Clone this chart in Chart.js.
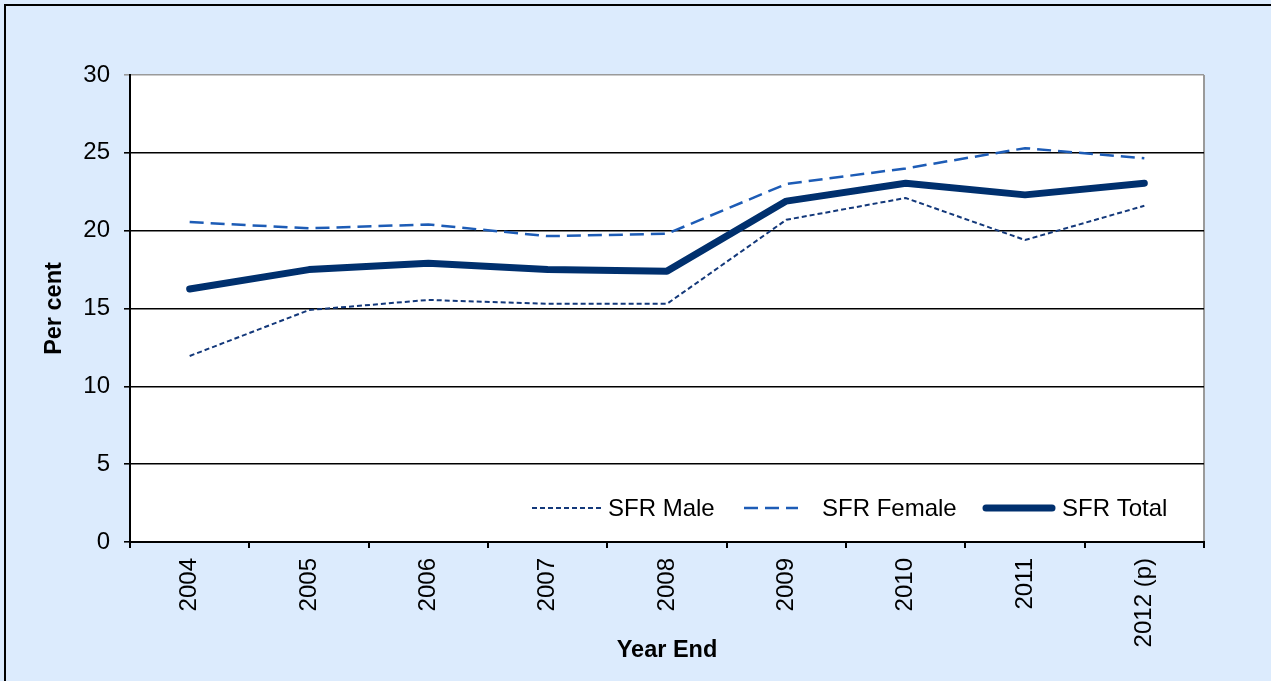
<!DOCTYPE html>
<html>
<head>
<meta charset="utf-8">
<script src="https://cdn.jsdelivr.net/npm/chart.js@4.4.1/dist/chart.umd.min.js"></script>
<style>
  html, body { margin: 0; padding: 0; background: rgb(220,235,253); overflow: hidden; }
  #wrap { position: relative; width: 1271px; height: 681px; }
  #frame { position: absolute; left: 4px; top: 4px; width: 1300px; height: 720px; border: 2px solid #000; box-sizing: border-box; pointer-events: none; }
  canvas { position: absolute; left: 0; top: 0; }
</style>
</head>
<body>
<div id="wrap">
  <canvas id="c" width="1271" height="681"></canvas>
  <div id="frame"></div>
</div>
<script>
const categories = ['2004', '2005', '2006', '2007', '2008', '2009', '2010', '2011', '2012 (p)'];
const sfrMale   = [11.95, 14.9, 15.55, 15.3, 15.3, 20.7, 22.1, 19.4, 21.6];
const sfrFemale = [20.55, 20.15, 20.4, 19.65, 19.8, 23.0, 24.0, 25.3, 24.65];
const sfrTotal  = [16.25, 17.5, 17.9, 17.5, 17.4, 21.9, 23.05, 22.3, 23.05];
const yTicks = [0, 5, 10, 15, 20, 25, 30];

const FONT = "'Liberation Sans', Arial, sans-serif";

const plotBg = {
  id: 'plotBg',
  beforeDraw(chart) {
    const {ctx, chartArea: a} = chart;
    ctx.save();
    ctx.fillStyle = '#ffffff';
    ctx.fillRect(a.left, a.top, a.right - a.left, a.bottom - a.top);
    ctx.strokeStyle = '#9a9a9a';
    ctx.lineWidth = 2;
    ctx.beginPath();
    ctx.moveTo(a.right, a.top);
    ctx.lineTo(a.right, a.bottom);
    ctx.stroke();
    ctx.restore();
  }
};

const customLegend = {
  id: 'customLegend',
  afterDraw(chart) {
    const {ctx, chartArea: a} = chart;
    const y = a.bottom - 34;
    const items = [
      {ds: 0, x0: a.right - 672, x1: a.right - 602, tx: a.right - 596},
      {ds: 1, x0: a.right - 460, x1: a.right - 406, tx: a.right - 382},
      {ds: 2, x0: a.right - 218, x1: a.right - 152, tx: a.right - 142}
    ];
    ctx.save();
    items.forEach(it => {
      const d = chart.data.datasets[it.ds];
      ctx.strokeStyle = d.borderColor;
      ctx.lineWidth = d.borderWidth;
      ctx.lineCap = d.borderCapStyle || 'butt';
      ctx.setLineDash(d.borderDash || []);
      ctx.beginPath();
      ctx.moveTo(it.x0, y);
      ctx.lineTo(it.x1, y);
      ctx.stroke();
      ctx.setLineDash([]);
      ctx.fillStyle = '#000';
      ctx.font = '24px ' + FONT;
      ctx.textBaseline = 'middle';
      ctx.textAlign = 'left';
      ctx.fillText(d.label, it.tx, y + 1);
    });
    ctx.restore();
  }
};

new Chart(document.getElementById('c'), {
  type: 'line',
  data: {
    labels: categories,
    datasets: [
      { label: 'SFR Male', data: sfrMale, borderColor: '#13387a', borderWidth: 2, borderDash: [5, 3],
        pointRadius: 0, tension: 0, order: 3 },
      { label: 'SFR Female', data: sfrFemale, borderColor: '#1d5cb6', borderWidth: 2.5, borderDash: [14, 7],
        pointRadius: 0, tension: 0, order: 2 },
      { label: 'SFR Total', data: sfrTotal, borderColor: '#00306e', borderWidth: 7, borderCapStyle: 'round',
        borderJoinStyle: 'round', pointRadius: 0, tension: 0, order: 1 }
    ]
  },
  options: {
    responsive: false,
    animation: false,
    devicePixelRatio: 1,
    layout: { padding: { left: 0, right: 67, top: 75, bottom: 0 } },
    plugins: { legend: { display: false }, tooltip: { enabled: false } },
    scales: {
      x: {
        type: 'category',
        offset: true,
        grid: { offset: true, drawOnChartArea: false, drawTicks: true, tickLength: 6, color: '#000', lineWidth: 2 },
        border: { display: true, color: '#000', width: 2 },
        ticks: { color: '#000', font: { family: FONT, size: 24 }, minRotation: 90, maxRotation: 90, padding: 10 },
        title: { display: true, text: 'Year End', color: '#000', font: { family: FONT, size: 23.5, weight: 'bold' },
                 padding: { top: 0, bottom: 16 } },
        afterFit(s) { s.height = 139; }
      },
      y: {
        min: 0, max: 30,
        afterBuildTicks(s) { s.ticks = yTicks.map(v => ({ value: v })); },
        grid: { drawOnChartArea: true, drawTicks: true, tickLength: 6,
                color: c => (c.tick && c.tick.value === 30 ? '#9a9a9a' : '#000'), lineWidth: 1.6 },
        border: { display: true, color: '#000', width: 2 },
        ticks: { color: '#000', font: { family: FONT, size: 24 }, padding: 14 },
        title: { display: true, text: 'Per cent', color: '#000', font: { family: FONT, size: 23.5, weight: 'bold' },
                 padding: { top: 40, bottom: 0 } },
        afterFit(s) { s.width = 130; }
      }
    }
  },
  plugins: [plotBg, customLegend]
});
</script>
</body>
</html>
